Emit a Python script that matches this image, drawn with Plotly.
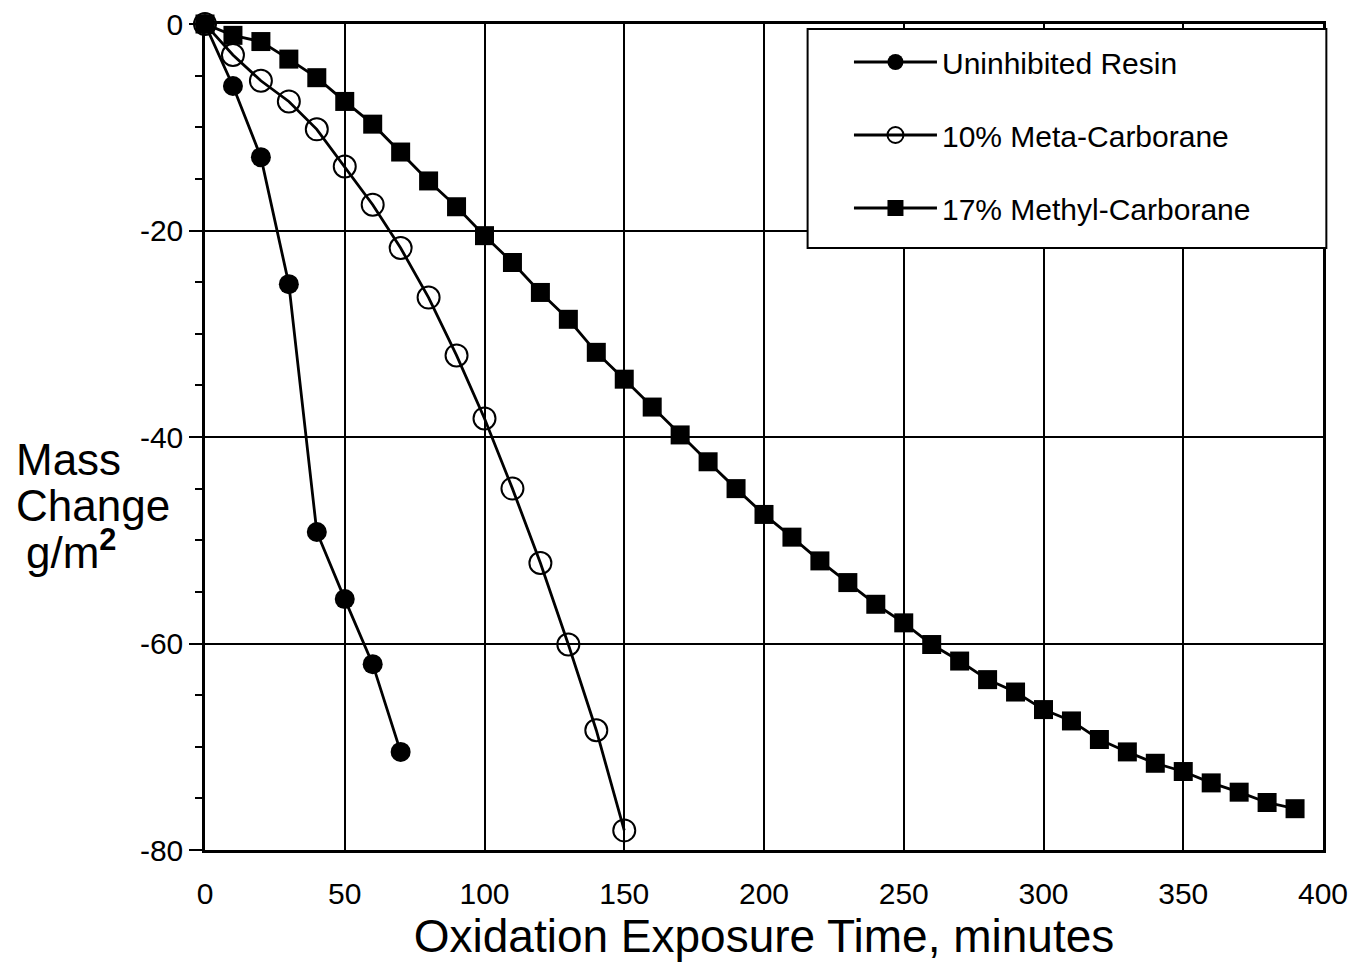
import plotly.graph_objects as go

time_uninhibited = [0, 10, 20, 30, 40, 50, 60, 70]
mass_uninhibited = [0, -6.0, -12.9, -25.2, -49.2, -55.7, -62.0, -70.5]

time_meta = [0, 10, 20, 30, 40, 50, 60, 70, 80, 90, 100, 110, 120, 130, 140, 150]
mass_meta = [0, -3.0, -5.5, -7.5, -10.2, -13.8, -17.5, -21.7, -26.5, -32.1,
             -38.2, -45.0, -52.2, -60.1, -68.4, -78.1]

time_methyl = list(range(0, 400, 10))
mass_methyl = [0, -1.1, -1.7, -3.4, -5.2, -7.5, -9.7, -12.4, -15.2, -17.7,
               -20.5, -23.1, -26.0, -28.6, -31.8, -34.4, -37.1, -39.8, -42.4, -45.0,
               -47.5, -49.7, -52.0, -54.1, -56.2, -58.0, -60.1, -61.7, -63.5, -64.7,
               -66.4, -67.5, -69.3, -70.5, -71.6, -72.4, -73.5, -74.4, -75.4, -76.0]

x_ticks = [0, 50, 100, 150, 200, 250, 300, 350, 400]
y_ticks = [0, -20, -40, -60, -80]

FONT = "Liberation Sans, Arial, Helvetica, sans-serif"
line = dict(color="black", width=2.8)

fig = go.Figure()
fig.add_trace(go.Scatter(x=time_uninhibited, y=mass_uninhibited, mode="lines+markers",
                         name="Uninhibited Resin", line=line, legendgroup="a",
                         marker=dict(symbol="circle", size=20, color="black"), cliponaxis=False))
fig.add_trace(go.Scatter(x=time_meta, y=mass_meta, mode="lines+markers",
                         name="10% Meta-Carborane", line=line, legendgroup="b",
                         marker=dict(symbol="circle-open", size=22, color="black",
                                     line=dict(width=2, color="black")), cliponaxis=False))
fig.add_trace(go.Scatter(x=time_methyl, y=mass_methyl, mode="lines+markers",
                         name="17% Methyl-Carborane", line=line, legendgroup="c",
                         marker=dict(symbol="square", size=19, color="black"), cliponaxis=False))

TOP, BOT = 24, 850  # plot-area rows in the page

def py(p):
    # pixel row in the page -> paper y
    return (BOT - p) / float(BOT - TOP)

fig.update_layout(
    width=1350, height=955,
    paper_bgcolor="white", plot_bgcolor="white",
    margin=dict(l=197, r=35, t=TOP - 8, b=955 + 8 - BOT, autoexpand=False),
    font=dict(family=FONT, color="black"),
    showlegend=True,
    legend=dict(x=0.576, y=py(36), xanchor="left", yanchor="top",
                bgcolor="rgba(0,0,0,0)", borderwidth=0,
                font=dict(size=30, family=FONT), tracegroupgap=31,
                itemwidth=83),
    shapes=[dict(type="rect", xref="paper", yref="paper",
                 x0=0.539, x1=1.003, y0=py(248), y1=py(29),
                 fillcolor="white", line=dict(color="black", width=2), layer="above")],
    annotations=[
        dict(text="Mass", xref="paper", yref="paper", x=-0.1712, y=py(459),
             xanchor="left", yanchor="middle", showarrow=False,
             font=dict(size=44, family=FONT)),
        dict(text="Change", xref="paper", yref="paper", x=-0.1712, y=py(505),
             xanchor="left", yanchor="middle", showarrow=False,
             font=dict(size=44, family=FONT)),
        dict(text="g/m<b><sup>2</sup></b>", xref="paper", yref="paper", x=-0.162, y=py(549),
             xanchor="left", yanchor="middle", showarrow=False,
             font=dict(size=44, family=FONT)),
    ],
)

fig.update_xaxes(range=[0, 400], tickvals=x_ticks, ticktext=[str(v) for v in x_ticks],
                 automargin=False,
                 showgrid=True, gridcolor="black", gridwidth=2,
                 showline=True, linecolor="black", linewidth=2.5, mirror=True,
                 ticks="outside", ticklen=15, tickcolor="rgba(0,0,0,0)",
                 ticklabeloverflow="allow",
                 tickfont=dict(size=30, family=FONT), zeroline=False,
                 title=dict(text="Oxidation Exposure Time, minutes",
                            font=dict(size=46, family=FONT), standoff=9))
fig.update_yaxes(range=[-80, 0], tickvals=y_ticks, ticktext=[str(v) for v in y_ticks],
                 automargin=False,
                 showgrid=True, gridcolor="black", gridwidth=2,
                 showline=True, linecolor="black", linewidth=2.5, mirror=True,
                 ticks="outside", ticklen=13, tickwidth=2, tickcolor="black",
                 ticklabeloverflow="allow",
                 minor=dict(dtick=5, ticks="outside", ticklen=7, tickwidth=1.5,
                            tickcolor="black", showgrid=False),
                 tickfont=dict(size=30, family=FONT), zeroline=False)

fig.write_html("out.html")
